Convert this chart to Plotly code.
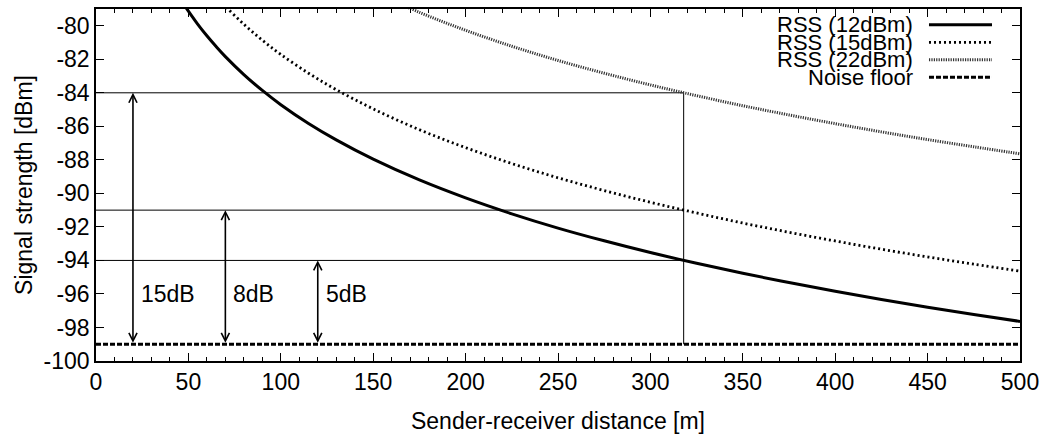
import plotly.graph_objects as go

# ---- data ----
dist = [48, 55, 60, 65, 70, 80, 90, 100, 115, 130, 150, 175, 200, 225, 250,
        275, 300, 325, 350, 375, 400, 425, 450, 475, 500]
rss12 = [-78.81, -79.90, -80.60, -81.24, -81.84, -82.91, -83.86, -84.71, -85.83,
         -86.81, -87.96, -89.20, -90.27, -91.22, -92.07, -92.83, -93.53, -94.17,
         -94.77, -95.32, -95.84, -96.33, -96.79, -97.22, -97.64]

dist15 = [65, 70, 80, 90, 100, 115, 130, 150, 175, 200, 225, 250, 275, 300, 325,
          350, 375, 400, 425, 450, 475, 500]
rss15 = [-78.24, -78.84, -79.91, -80.86, -81.71, -82.83, -83.81, -84.96, -86.20,
         -87.27, -88.22, -89.07, -89.83, -90.53, -91.17, -91.77, -92.32, -92.84,
         -93.33, -93.79, -94.22, -94.64]

dist22 = [150, 175, 200, 225, 250, 275, 300, 325, 350, 375, 400, 425, 450, 475, 500]
rss22 = [-77.96, -79.20, -80.27, -81.22, -82.07, -82.83, -83.53, -84.17, -84.77,
         -85.32, -85.84, -86.33, -86.79, -87.22, -87.64]

noise_x = [0, 500]
noise_level = -99

ref_levels = [-84, -91, -94]
cross_x = 318
arrow_x = [20, 70, 120]
arrow_top = [-84, -91, -94]
arrow_labels = ["15dB", "8dB", "5dB"]
label_y = -96

x_ticks = [0, 50, 100, 150, 200, 250, 300, 350, 400, 450, 500]
y_ticks = [-100, -98, -96, -94, -92, -90, -88, -86, -84, -82, -80]
y_tick_labels = [str(v) for v in y_ticks]

series_names = ["RSS (12dBm)", "RSS (15dBm)", "RSS (22dBm)", "Noise floor"]

FONT = "Liberation Sans, Arial, Helvetica, sans-serif"
FS = 23
LEG_FS = 22

styles = [
    dict(color="black", width=3),
    dict(color="black", width=2.8, dash="2px,3px"),
    dict(color="#333333", width=3, dash="1.2px,1.2px"),
    dict(color="black", width=3, dash="5px,2px"),
]

fig = go.Figure()

# reference lines
for lvl in ref_levels:
    fig.add_trace(go.Scatter(x=[0, cross_x], y=[lvl, lvl], mode="lines",
                             line=dict(color="black", width=1), showlegend=False,
                             hoverinfo="skip"))
fig.add_trace(go.Scatter(x=[cross_x, cross_x], y=[noise_level, max(ref_levels)],
                         mode="lines", line=dict(color="black", width=1),
                         showlegend=False, hoverinfo="skip"))

# curves
fig.add_trace(go.Scatter(x=dist, y=rss12, mode="lines", line=dict(shape="spline", **styles[0]),
                         name=series_names[0], showlegend=False))
fig.add_trace(go.Scatter(x=dist15, y=rss15, mode="lines", line=dict(shape="spline", **styles[1]),
                         name=series_names[1], showlegend=False))
fig.add_trace(go.Scatter(x=dist22, y=rss22, mode="lines", line=dict(shape="spline", **styles[2]),
                         name=series_names[2], showlegend=False))
fig.add_trace(go.Scatter(x=noise_x, y=[noise_level] * len(noise_x), mode="lines",
                         line=styles[3], name=series_names[3], showlegend=False))

# double arrows + labels
for ax_, top, lab in zip(arrow_x, arrow_top, arrow_labels):
    fig.add_annotation(x=ax_, y=top, ax=ax_, ay=noise_level, xref="x", yref="y",
                       axref="x", ayref="y", showarrow=True, arrowhead=5,
                       startarrowhead=5, arrowside="end+start", arrowwidth=1.6,
                       arrowsize=1.0, startarrowsize=1.0, arrowcolor="black", text="")
    fig.add_annotation(x=ax_ + 3.3, y=label_y, xref="x", yref="y", text=lab,
                       showarrow=False, xanchor="left", yanchor="middle",
                       font=dict(family=FONT, size=FS, color="black"))

# custom gnuplot-style legend (text then sample)
leg_y = [0.955, 0.905, 0.856, 0.806]
for name, st, yy in zip(series_names, styles, leg_y):
    fig.add_annotation(x=0.8853, y=yy, xref="paper", yref="paper", text=name,
                       showarrow=False, xanchor="right", yanchor="middle",
                       borderpad=0, font=dict(family=FONT, size=LEG_FS, color="black"))
    fig.add_shape(type="line", xref="paper", yref="paper", x0=0.9015, x1=0.9697,
                  y0=yy, y1=yy, line=st)

axis_common = dict(showline=True, linecolor="black", linewidth=1.5, mirror="allticks",
                   ticks="inside", ticklen=8, tickwidth=1, tickcolor="black",
                   showgrid=False, zeroline=False, automargin=False,
                   tickfont=dict(family=FONT, size=FS, color="black"))

fig.update_layout(
    width=1050, height=436,
    margin=dict(l=96, r=30, t=9, b=75),
    plot_bgcolor="white", paper_bgcolor="white",
    font=dict(family=FONT, size=FS, color="black"),
    xaxis=dict(range=[0, 500], tickvals=x_ticks,
               title=dict(text="Sender-receiver distance [m]", standoff=19,
                          font=dict(family=FONT, size=FS, color="black")),
               minor=dict(dtick=10, ticks="inside", ticklen=4, tickcolor="black", showgrid=False),
               **axis_common),
    yaxis=dict(range=[-100, -79], tickvals=y_ticks, ticktext=y_tick_labels,
               title=dict(text="Signal strength [dBm]", standoff=5,
                          font=dict(family=FONT, size=FS, color="black")),
               **axis_common),
)

fig.write_html("out.html")
